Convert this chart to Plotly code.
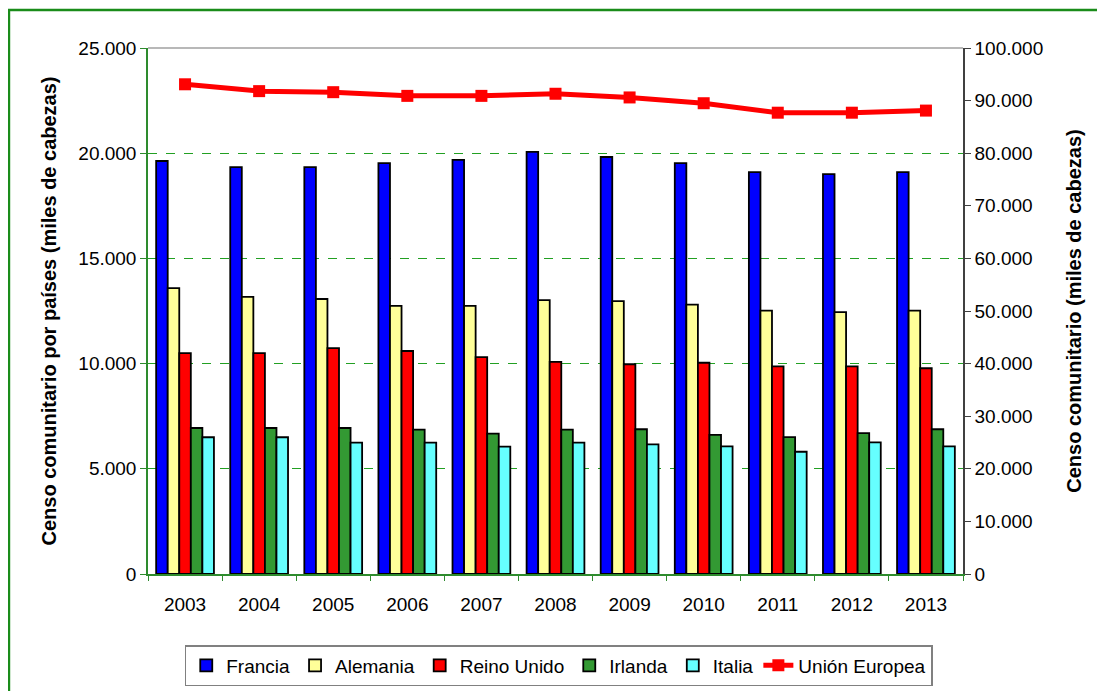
import plotly.graph_objects as go

years = ['2003', '2004', '2005', '2006', '2007', '2008', '2009', '2010', '2011', '2012', '2013']

# miles de cabezas
francia = [19630, 19340, 19340, 19530, 19680, 20060, 19820, 19530, 19100, 19010, 19100]
alemania = [13590, 13170, 13070, 12740, 12740, 13020, 12970, 12800, 12520, 12450, 12520]
reino_unido = [10500, 10500, 10740, 10600, 10310, 10080, 9970, 10040, 9870, 9870, 9780]
irlanda = [6940, 6940, 6940, 6860, 6670, 6860, 6880, 6610, 6510, 6700, 6880]
italia = [6500, 6500, 6240, 6240, 6050, 6240, 6160, 6070, 5810, 6260, 6070]
union_europea = [93100, 91800, 91600, 90900, 90900, 91300, 90600, 89500, 87700, 87700, 88100]

FONT = 'Liberation Sans, Arial, sans-serif'
GREEN = '#2e8b2e'

fig = go.Figure()

bar_series = [
    ('Francia', francia, '#0000ff'),
    ('Alemania', alemania, '#ffff99'),
    ('Reino Unido', reino_unido, '#ff0000'),
    ('Irlanda', irlanda, '#339933'),
    ('Italia', italia, '#66ffff'),
]
for name, vals, color in bar_series:
    fig.add_trace(go.Bar(
        x=years, y=vals, name=name,
        marker=dict(color=color, line=dict(color='black', width=1.8)),
    ))

fig.add_trace(go.Scatter(
    x=years, y=union_europea, name='Unión Europea', yaxis='y2',
    mode='lines+markers',
    line=dict(color='#ff0000', width=5),
    marker=dict(symbol='square', size=12, color='#ff0000'),
))

fig.update_layout(
    width=1105, height=691,
    margin=dict(l=140, r=150, t=40, b=125),
    paper_bgcolor='white', plot_bgcolor='white',
    separators=',.',
    font=dict(family=FONT, size=19, color='black'),
    barmode='group', bargap=0.22, bargroupgap=0,
    showlegend=True,
    legend=dict(
        orientation='h', x=0.504, xanchor='center', y=-0.135, yanchor='top',
        bordercolor='#808080', borderwidth=1.5,
        font=dict(size=19), itemwidth=30, tracegroupgap=0,
    ),
    xaxis=dict(
        range=[-0.5, len(years) - 0.5],
        showline=True, linecolor=GREEN, linewidth=1.5,
        ticks='outside', tickcolor=GREEN, ticklen=5, tickson='boundaries',
        tickfont=dict(size=19), ticklabelstandoff=12,
    ),
    yaxis=dict(
        range=[0, 25000], dtick=5000, tickformat=',d',
        showline=True, linecolor=GREEN, linewidth=1.5,
        ticks='outside', tickcolor=GREEN, ticklen=6,
        showgrid=True, gridcolor='#22a022', griddash='dash', gridwidth=1,
        zeroline=False, tickfont=dict(size=19),
        title=dict(text='<b>Censo comunitario por países (miles de cabezas)</b>',
                   font=dict(size=20), standoff=16),
    ),
    yaxis2=dict(
        range=[0, 100000], dtick=10000, tickformat=',d',
        overlaying='y', side='right',
        showline=True, linecolor='#404040', linewidth=1.5,
        ticks='outside', tickcolor='#404040', ticklen=6,
        showgrid=False, zeroline=False, tickfont=dict(size=19),
        title=dict(text='<b>Censo comunitario (miles de cabezas)</b>',
                   font=dict(size=20), standoff=25),
    ),
    shapes=[
        # top border of the plot area
        dict(type='line', xref='paper', yref='paper', x0=0, x1=1, y0=1, y1=1,
             line=dict(color='#a0a0a0', width=1.5)),
        # outer green frame
        dict(type='rect', xref='paper', yref='paper',
             x0=-0.1706, x1=1.3, y0=-0.4, y1=1.0722,
             line=dict(color='#1a8c1a', width=2.5)),
    ],
)

fig.write_html("out.html")
